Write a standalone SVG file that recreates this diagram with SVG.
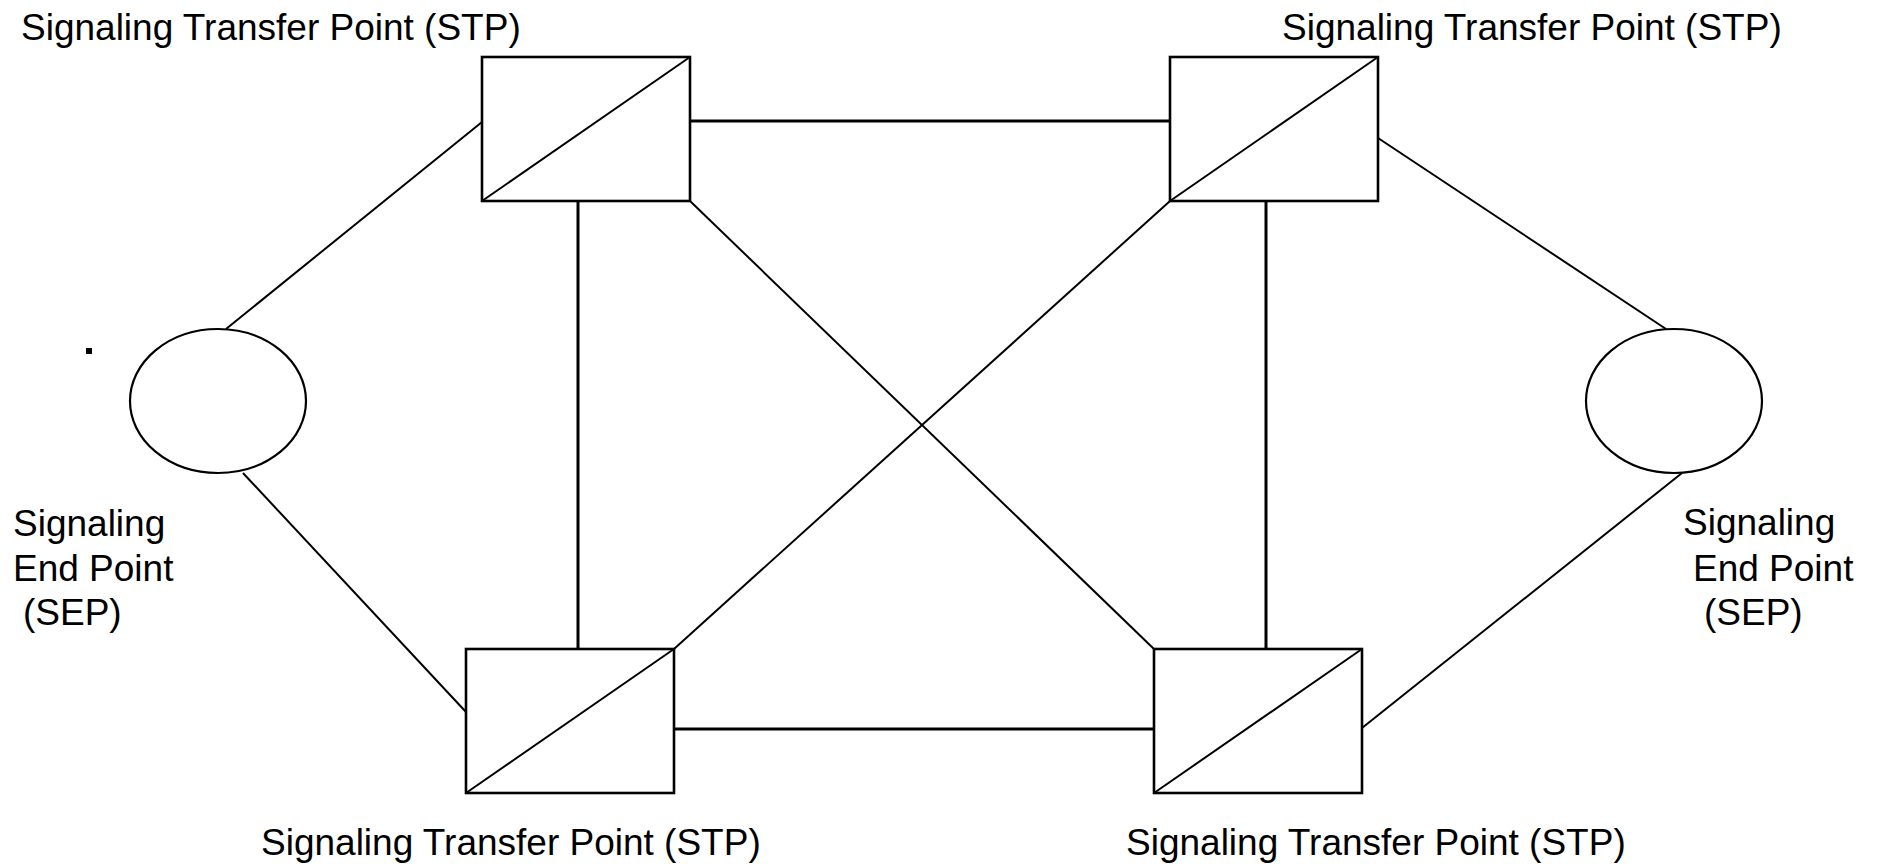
<svg xmlns="http://www.w3.org/2000/svg" width="1877" height="864" viewBox="0 0 1877 864">
<style>
.bg{fill:#fff}
.box{fill:none;stroke:#000;stroke-width:2.6}
.diag{stroke:#000;stroke-width:2}
.sep{fill:none;stroke:#000;stroke-width:2.2}
.thick{stroke:#000;stroke-width:3;fill:none}
.thin{stroke:#000;stroke-width:2;fill:none}
text{font-family:"Liberation Sans",Arial,sans-serif;font-size:37px;fill:#000}
</style>
<rect class="bg" x="0" y="0" width="1877" height="864"/>
<g id="connectors">
<line class="thick" x1="690" y1="121" x2="1170" y2="121"/>
<line class="thick" x1="674" y1="729" x2="1154" y2="729"/>
<line class="thick" x1="578" y1="201" x2="578" y2="649"/>
<line class="thick" x1="1266" y1="201" x2="1266" y2="649"/>
<line class="thin" x1="690" y1="201" x2="1154" y2="649"/>
<line class="thin" x1="1170" y1="201" x2="674" y2="649"/>
<line class="thin" x1="226" y1="329" x2="482" y2="122"/>
<line class="thin" x1="243" y1="473" x2="466" y2="712"/>
<line class="thin" x1="1666" y1="329" x2="1378" y2="138"/>
<line class="thin" x1="1682" y1="473" x2="1362" y2="728"/>
</g>
<g id="stp-tl">
<rect class="box" x="482" y="57" width="208" height="144"/>
<line class="diag" x1="482" y1="201" x2="690" y2="57"/>
<text x="21" y="40">Signaling Transfer Point (STP)</text>
</g>
<g id="stp-tr">
<rect class="box" x="1170" y="57" width="208" height="144"/>
<line class="diag" x1="1170" y1="201" x2="1378" y2="57"/>
<text x="1282" y="40">Signaling Transfer Point (STP)</text>
</g>
<g id="stp-bl">
<rect class="box" x="466" y="649" width="208" height="144"/>
<line class="diag" x1="466" y1="793" x2="674" y2="649"/>
<text x="261" y="855">Signaling Transfer Point (STP)</text>
</g>
<g id="stp-br">
<rect class="box" x="1154" y="649" width="208" height="144"/>
<line class="diag" x1="1154" y1="793" x2="1362" y2="649"/>
<text x="1126" y="855">Signaling Transfer Point (STP)</text>
</g>
<g id="sep-left">
<ellipse class="sep" cx="218" cy="401" rx="88" ry="72"/>
<text x="13" y="536">Signaling</text>
<text x="13" y="581">End Point</text>
<text x="23" y="625">(SEP)</text>
</g>
<g id="sep-right">
<ellipse class="sep" cx="1674" cy="401" rx="88" ry="72"/>
<text x="1683" y="535">Signaling</text>
<text x="1693" y="581">End Point</text>
<text x="1704" y="625">(SEP)</text>
</g>
<rect x="86" y="348" width="6" height="6" fill="#000"/>
</svg>
